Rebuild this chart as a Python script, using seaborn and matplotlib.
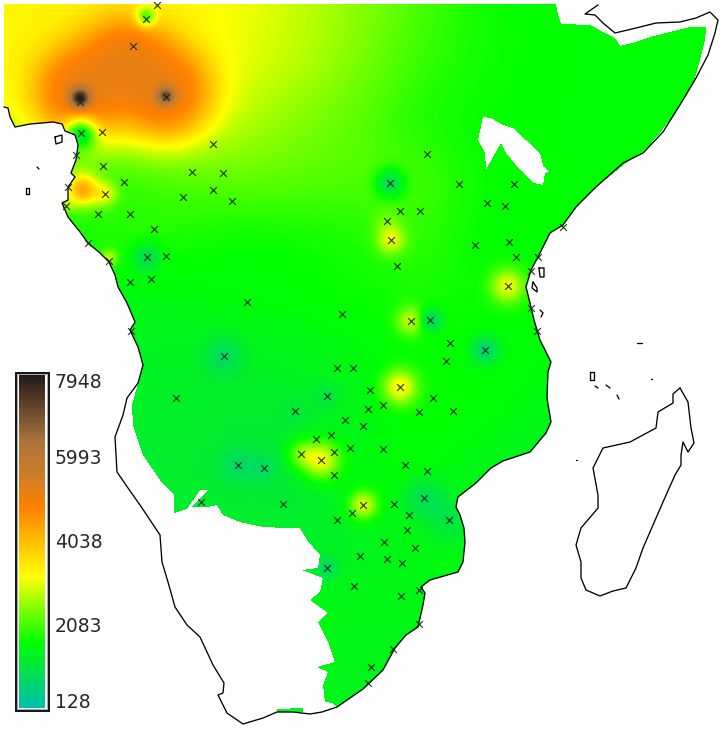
import numpy as np
import matplotlib
matplotlib.use("Agg")
import matplotlib.pyplot as plt
from matplotlib.colors import LinearSegmentedColormap
from matplotlib.path import Path
from matplotlib.patches import Rectangle
import pandas as pd
import seaborn as sns

W, H = 726, 730
VMIN, VMAX = 128, 7948
tick_labels = ["7948", "5993", "4038", "2083", "128"]
tick_y = [383, 459, 543, 627, 703]

# stations (image coordinates)
station_x = [157,146,133,80,166,81,102,213,76,103,192,223,124,68,105,213,183,232,66,98,130,154,88,147,166,109,151,130,247,342,131,224,
             427,390,459,514,487,505,400,420,387,391,475,509,516,538,531,397,508,531,411,430,537,450,485,446,563,
             337,353,176,327,295,345,363,331,316,350,334,301,321,238,264,334,283,201,363,352,337,360,327,354,
             370,400,433,368,383,419,453,383,405,427,394,424,409,449,407,384,415,387,402,401,419,419,393,371,368]
station_y = [5,19,46,102,97,133,132,144,155,166,172,173,182,187,194,190,197,201,206,214,214,229,243,257,256,261,279,282,302,314,331,356,
             154,183,184,184,203,206,211,211,221,240,245,242,257,257,271,266,286,308,321,320,331,343,350,361,227,
             368,368,398,396,411,420,426,435,439,448,452,454,460,465,468,475,504,502,505,513,520,556,568,586,
             390,387,398,409,405,412,411,449,465,471,504,498,515,520,530,542,548,559,563,596,590,624,649,667,683]

grid_nodes = np.arange(0, 721, 60)
row_000 = [3300,3350,3400,3300,3150,2850,2500,2100,1750,1655,1655,1655,1655]
row_060 = [3300,3300,3300,3300,3100,2800,2400,2000,1750,1655,1655,1655,1655]
row_120 = [3000,3000,3000,3000,2800,2450,2200,1800,1680,1655,1655,1655,1655]
row_180 = [1800,1800,1900,2100,2250,2200,2150,2100,1700,1655,1655,1655,1655]
row_240 = [1800,1800,1900,1800,1650,1700,1800,1950,1655,1655,1655,1655,1655]
row_300 = [1500,1500,1500,1500,1600,1650,1700,1800,1680,1655,1600,1600,1600]
row_360 = [1350,1350,1350,1350,1350,1400,1550,1650,1700,1600,1500,1450,1450]
row_420 = [1300,1300,1300,1300,1250,1250,1500,1700,1650,1500,1450,1400,1400]
row_480 = [1250,1250,1250,1250,1250,1200,1550,1650,1400,1250,1250,1250,1250]
row_540 = [1300,1300,1300,1300,1300,1300,1350,1550,1500,1400,1400,1400,1400]
row_600 = [1500,1500,1500,1500,1500,1500,1500,1500,1500,1500,1500,1500,1500]
row_660 = [1450,1450,1450,1450,1450,1450,1450,1450,1450,1450,1450,1450,1450]
row_720 = [1400,1400,1400,1400,1400,1400,1400,1400,1400,1400,1400,1400,1400]

# broad high-rainfall plateau in the north-west
blob_x = [80, 165, 125]
blob_y = [92, 92, 62]
blob_r = [38, 38, 36]
blob_peak = 5300

# local highs and lows around single stations
spot_x = [80,166,146,81,82,105,147,109,66,224,390,391,387,508,411,430,485,400,321,301,363,238,264,424,449,327,327,295]
spot_y = [98,96,17,133,190,194,257,258,206,356,183,240,222,286,321,320,350,387,460,454,505,465,468,498,520,568,396,411]
spot_v = [7948,7200,2200,1350,4300,3300,900,2800,2700,800,850,3100,2500,3100,2900,800,650,3300,3100,2700,3000,800,850,950,1050,800,1050,1150]
spot_r = [10,9,10,16,16,12,14,8,8,18,14,14,14,17,14,12,14,17,19,14,14,18,15,20,22,11,12,12]

# region where the field is drawn
land_x = [4,556,558,561,590,603,615,620,636,650,670,690,706,705,700,695,686,675,660,643,626,596,576,563,550,538,531,526,531,534,540,551,548,547,551,546,530,503,491,476,458,456,460,464,465,463,458,430,421,425,423,418,406,395,383,363,337,333,325,323,328,317,335,328,318,328,310,320,323,302,318,320,307,300,287,263,240,223,217,208,192,208,200,187,174,174,160,143,133,132,137,143,138,130,135,127,118,115,109,100,88,80,68,62,68,68,75,71,76,78,75,65,62,53,42,30,15,10,8,4]
land_y = [4,4,15,24,25,32,38,46,42,37,32,27,27,40,60,78,95,113,133,152,163,187,207,225,233,257,270,287,307,320,340,362,372,398,422,433,452,461,468,483,497,507,515,528,542,562,572,580,587,593,605,627,635,648,670,688,707,703,702,685,672,667,662,642,622,613,600,592,578,570,568,555,540,528,528,527,522,515,505,507,507,490,490,509,513,495,480,455,425,405,387,365,347,330,322,303,287,275,262,253,243,232,217,203,200,187,177,173,160,145,135,131,124,122,123,124,127,117,108,107]
lake_x = [483,478,485,486,493,501,506,520,533,543,545,550,543,540,526,513,503,491]
lake_y = [117,140,153,170,157,143,153,170,183,185,173,172,165,153,140,128,125,118]
patch_x = [277,303,303,277]
patch_y = [709,708,712,712]

# coastlines
coast_x = [4,8,10,15,30,42,53,62,65,75,78,76,71,75,68,68,62,68,80,88,100,109,115,118,127,135,130,138,143,138,127,123,115,117,128,140,160,162,168,175,187,200,213,224,223,218,227,243,263,277,293,310,322,337,363,383,395,406,418,423,425,421,430,458,463,465,464,460,456,458,476,491,503,530,546,551,547,548,551,540,534,531,526,531,538,550,563,576,596,623,643,663,683,696,708,715,718,710,696,680,656,636,615,603,595,585,598]
coast_y = [107,108,117,127,124,123,122,124,131,135,145,160,173,177,187,200,203,217,232,243,253,262,275,287,303,322,330,347,365,383,398,415,437,472,488,505,535,562,582,607,625,637,665,683,693,695,713,724,718,712,712,714,712,707,689,670,648,635,627,605,593,587,580,572,562,542,528,515,507,497,483,468,461,452,433,422,398,372,362,340,320,307,287,270,257,233,225,207,187,163,153,132,100,78,55,33,20,12,18,22,23,28,33,23,15,14,5]
mada_x = [680,688,691,694,688,683,681,681,675,663,653,643,636,626,613,600,586,581,581,576,581,598,598,593,603,630,656,658,673,673,680]
mada_y = [388,402,428,443,452,442,455,465,475,502,525,548,568,588,591,596,590,578,562,545,528,508,495,468,448,442,428,412,403,394,388]
island_xs = [[590,594,594,590,590],[55,62,62,56,55],[26,29,29,26,26],[539,544,544,540,539],[533,537,537,532,533],[540,543,541],[595,598],[606,610],[617,619],[651,652],[576,577],[37,39],[637,642]]
island_ys = [[372,372,380,380,372],[137,135,142,144,137],[188,188,194,194,188],[268,268,277,277,268],[282,288,292,288,282],[310,313,317],[386,388],[385,388],[395,399],[379,379],[460,460],[167,169],[343,343]]

pos = [0, .195, .393, .60, .70, .805, 1]
cols = [(0,190,170),(0,255,0),(255,255,0),(255,128,0),(205,125,40),(170,115,60),(35,25,25)]
cmap = LinearSegmentedColormap.from_list("rain", [(p, tuple(c/255 for c in col)) for p, col in zip(pos, cols)])


def box(a, w, axis):
    a = np.moveaxis(a, axis, 0)
    front = (w + 1) // 2
    back = (w - 1) // 2
    pad = np.concatenate([np.repeat(a[:1], front, 0), a, np.repeat(a[-1:], back, 0)], 0)
    c = np.cumsum(pad, 0)
    out = (c[w:] - c[:-w]) / w
    return np.moveaxis(out, 0, axis)


rows = np.array([row_000,row_060,row_120,row_180,row_240,row_300,row_360,row_420,row_480,row_540,row_600,row_660,row_720], float)
xs = np.arange(W) + .5
ys = np.arange(H) + .5
tmp = np.array([np.interp(xs, grid_nodes, r) for r in rows])
field = np.array([np.interp(ys, grid_nodes, tmp[:, j]) for j in range(W)]).T
for _ in range(2):
    field = box(field, 41, 0)
    field = box(field, 41, 1)
XX, YY = np.meshgrid(xs, ys)
t = sum(np.exp(-((XX-a)**2 + (YY-b)**2) / r**2) for a, b, r in zip(blob_x, blob_y, blob_r))
weight = 1 - np.exp(-2.2 * t)
field = field + (blob_peak - field) * weight
for a, b, v, r in zip(spot_x, spot_y, spot_v, spot_r):
    cur = field[min(b, H-1), min(a, W-1)]
    field = field + (v - cur) * np.exp(-((XX-a)**2 + (YY-b)**2) / r**2)

pts = np.column_stack([XX.ravel(), YY.ravel()])
inside = Path(np.column_stack([land_x, land_y])).contains_points(pts)
inside |= Path(np.column_stack([patch_x, patch_y])).contains_points(pts)
inside &= ~Path(np.column_stack([lake_x, lake_y])).contains_points(pts)
mask = ~inside.reshape(H, W)

sns.set_theme(style="white")
fig = plt.figure(figsize=(W/100, H/100), dpi=100, facecolor="white")
ax = fig.add_axes([0, 0, 1, 1])
sns.heatmap(field, mask=mask, cmap=cmap, vmin=VMIN, vmax=VMAX, cbar=False,
            xticklabels=False, yticklabels=False, ax=ax)
ax.set_xlim(0, W)
ax.set_ylim(H, 0)
ax.axis("off")

for xx, yy in [(coast_x, coast_y), (mada_x, mada_y)] + list(zip(island_xs, island_ys)):
    ax.plot(xx, yy, color="black", lw=0.95, solid_joinstyle="round", zorder=3)

stations = pd.DataFrame({"x": station_x, "y": station_y})
sns.scatterplot(data=stations, x="x", y="y", marker="x", s=24, color="#14281e", linewidth=0.85,
                alpha=.9, legend=False, ax=ax, zorder=4)
ax.set_xlim(0, W)
ax.set_ylim(H, 0)

# colour bar
ax.add_patch(Rectangle((15.5, 372.5), 33, 338, fc="white", ec="black", lw=1.3, zorder=5))
ax.add_patch(Rectangle((17, 374), 30, 335, fc="white", ec="#999999", lw=.6, zorder=5))
cax = fig.add_axes([18.5/W, 1 - 708/H, 27/W, 333/H], zorder=6)
gradient = np.linspace(VMAX, VMIN, 256)[:, None]
sns.heatmap(gradient, cmap=cmap, vmin=VMIN, vmax=VMAX, cbar=False, xticklabels=False, yticklabels=False, ax=cax)
for s, y in zip(tick_labels, tick_y):
    ax.text(55, y, s, fontsize=13.5, family="DejaVu Sans", color="#282828", va="center", ha="left", zorder=6)

fig.savefig("out.png", dpi=100, facecolor="white")
